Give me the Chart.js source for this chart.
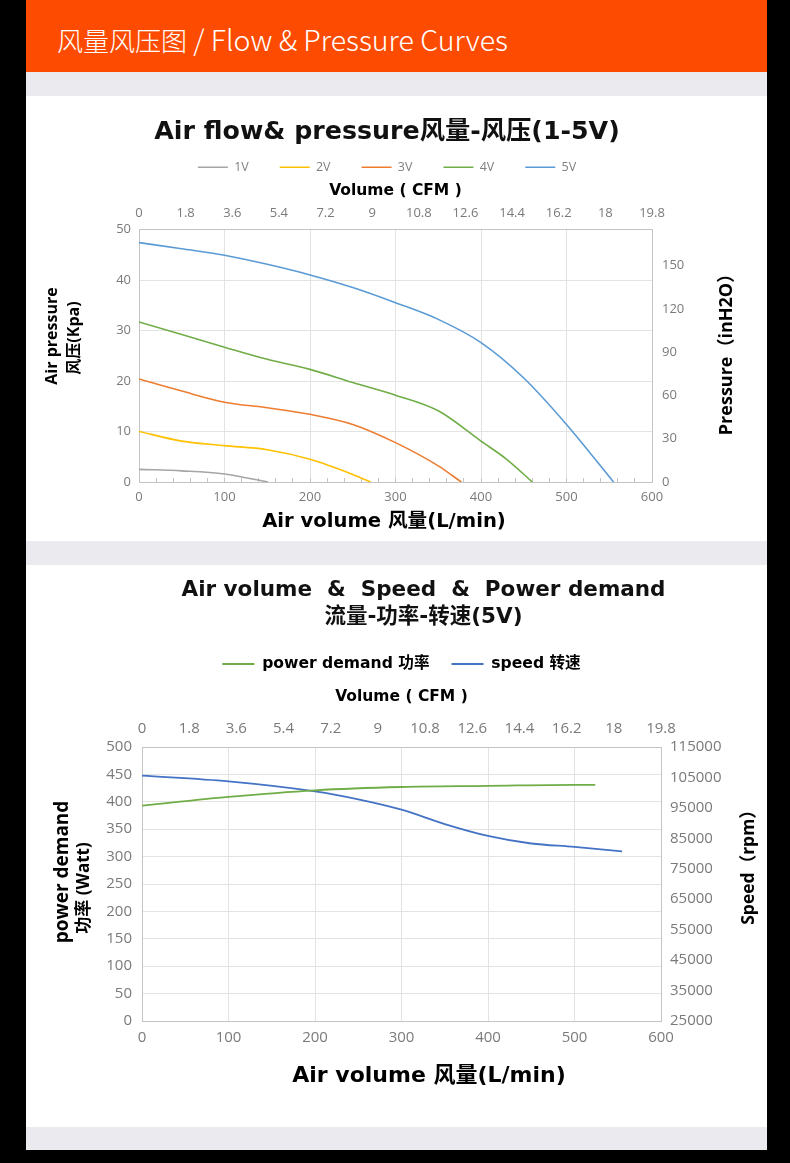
<!DOCTYPE html>
<html>
<head>
<meta charset="utf-8">
<script src="https://cdn.jsdelivr.net/npm/chart.js"></script>
<style>
body { margin: 0; background: #000; }
#page { position: relative; width: 790px; height: 1163px; background: #000; overflow: hidden; }
#header { position: absolute; left: 26px; top: 0; width: 741px; height: 72px; background: #fd4c02; }
#header span { position: absolute; left: 31px; top: 18px; line-height: 38px; color: #fff; white-space: nowrap;
  font: 300 26px "Noto Sans CJK SC", sans-serif; }
#header span i { font-style: normal; font-size: 28.5px; }
.band { position: absolute; left: 26px; width: 741px; background: #ebebef; }
.panel { position: absolute; left: 26px; width: 741px; background: #fff; }
</style>
</head>
<body>
<div id="page">
  <div id="header"><span>风量风压图<i> / Flow &amp; Pressure Curves</i></span></div>
  <div class="band" style="top:72px;height:1078px"></div>
  <div class="panel" style="top:96px;height:445px"><canvas id="flowChart"></canvas></div>
  <div class="panel" style="top:565px;height:562px"><canvas id="powerChart"></canvas></div>
</div>

<script>
// ---- values ----
const voltLabels = ['1V', '2V', '3V', '4V', '5V'];

// air volume (L/min) -> pressure (kPa), one pair of arrays per voltage
const flow1V = [0, 50, 100, 120, 151];
const kpa1V  = [2.5, 2.2, 1.6, 1.0, 0];
const flow2V = [0, 50, 100, 150, 200, 250, 271];
const kpa2V  = [10.0, 8.1, 7.2, 6.4, 4.5, 1.5, 0];
const flow3V = [0, 50, 100, 150, 200, 250, 300, 350, 377];
const kpa3V  = [20.4, 18.0, 15.8, 14.7, 13.4, 11.4, 7.8, 3.2, 0];
const flow4V = [0, 50, 100, 150, 200, 250, 300, 350, 400, 430, 460];
const kpa4V  = [31.7, 29.2, 26.7, 24.3, 22.3, 19.7, 17.2, 14.1, 8.1, 4.5, 0];
const flow5V = [0, 50, 100, 150, 200, 250, 300, 350, 400, 450, 500, 555];
const kpa5V  = [47.4, 46.2, 44.9, 43.1, 41.0, 38.5, 35.5, 32.2, 27.6, 20.6, 11.4, 0];

// 5V: air volume (L/min) -> power (W) and speed (rpm)
const flowPower = [0, 100, 200, 300, 400, 500, 524];
const powerW    = [393, 409, 421, 427, 429, 431, 431];
const flowSpeed = [0, 100, 200, 250, 300, 350, 400, 450, 500, 555];
const speedRpm  = [105600, 103700, 100400, 97800, 94400, 89700, 85800, 83300, 82200, 80700];

// tick labels
const flowTicks  = [0, 100, 200, 300, 400, 500, 600];
const cfmTicks   = [0, 1.8, 3.6, 5.4, 7.2, 9, 10.8, 12.6, 14.4, 16.2, 18, 19.8];
const kpaTicks   = [0, 10, 20, 30, 40, 50];
const inH2OTicks = [0, 30, 60, 90, 120, 150];
const wattTicks  = [0, 50, 100, 150, 200, 250, 300, 350, 400, 450, 500];
const rpmTicks   = [25000, 35000, 45000, 55000, 65000, 75000, 85000, 95000, 105000, 115000];

// ---- styling ----
const voltColors = ['#a5a5a5', '#ffc000', '#ed7d31', '#70ad47', '#5b9bd5'];
const WIDE = '"DejaVu Sans", "Noto Sans CJK SC", sans-serif';
const OPEN = '"Open Sans", "Noto Sans CJK SC", sans-serif';
const GRID = '#e3e3e3';
const EDGE = '#c4c4c4';

Chart.defaults.font.family = OPEN;
Chart.defaults.color = '#7a7a7a';
Chart.defaults.animation = false;

function pairs(xs, ys) {
  return xs.map((x, i) => ({ x: x, y: ys[i] }));
}
function fixedTicks(list) {
  return scale => { scale.ticks = list.map(value => ({ value })); };
}
// axis captions placed like the Excel text boxes; side ones read bottom to top
function captions(items) {
  return {
    id: 'captions',
    afterDraw(chart) {
      const ctx = chart.ctx;
      items.forEach(t => {
        ctx.save();
        ctx.translate(t.x, t.y);
        if (t.up) ctx.rotate(-Math.PI / 2);
        ctx.font = t.font;
        ctx.fillStyle = '#000';
        ctx.textAlign = 'center';
        ctx.textBaseline = 'middle';
        ctx.fillText(t.text, 0, 0);
        ctx.restore();
      });
    }
  };
}

const flows = [flow1V, flow2V, flow3V, flow4V, flow5V];
const pressures = [kpa1V, kpa2V, kpa3V, kpa4V, kpa5V];

new Chart(document.getElementById('flowChart'), {
  type: 'line',
  data: {
    datasets: voltLabels.map((label, i) => ({
      label: label,
      data: pairs(flows[i], pressures[i]),
      borderColor: voltColors[i],
      backgroundColor: voltColors[i],
      borderWidth: 1.6,
      pointRadius: 0,
      cubicInterpolationMode: 'monotone',
      xAxisID: 'x',
      yAxisID: 'y'
    }))
  },
  options: {
    responsive: true,
    maintainAspectRatio: false,
    layout: { padding: { right: 19 } },
    plugins: {
      title: {
        display: true,
        text: 'Air flow& pressure风量-风压(1-5V)',
        color: '#111',
        font: { family: WIDE, size: 25.3, weight: 'bold', lineHeight: 1 },
        padding: { top: 24, bottom: -15.3 }
      },
      legend: {
        labels: { usePointStyle: true, pointStyle: 'line', pointStyleWidth: 30, padding: 31,
                  color: '#7f7f7f', font: { size: 12.5 } }
      },
      tooltip: { enabled: false }
    },
    scales: {
      x: {
        type: 'linear', min: 0, max: 600,
        afterFit: s => { s.height = 59; },
        ticks: { stepSize: 20, autoSkip: false, maxRotation: 0, padding: 11.2, font: { size: 13 },
                 callback: v => flowTicks.includes(v) ? String(v) : '' },
        grid: { color: c => flowTicks.includes(c.tick.value) ? GRID : 'rgba(0,0,0,0)',
                tickLength: -4, tickColor: EDGE },
        border: { color: EDGE }
      },
      x2: {
        type: 'linear', position: 'top', min: 0, max: 19.8,
        afterBuildTicks: fixedTicks(cfmTicks),
        afterFit: s => { s.height = 46; },
        ticks: { autoSkip: false, maxRotation: 0, padding: 8.2, font: { size: 13 }, callback: v => String(v) },
        grid: { display: false, drawTicks: false },
        border: { color: EDGE },
        title: { display: true, text: 'Volume ( CFM )', color: '#000',
                 font: { family: WIDE, size: 15.5, weight: 'bold', lineHeight: 1 }, padding: { top: 0, bottom: 0 } }
      },
      y: {
        min: 0, max: 50,
        afterBuildTicks: fixedTicks(kpaTicks),
        afterFit: s => { s.width = 113; },
        ticks: { padding: 8, font: { size: 13 }, callback: v => String(v) },
        grid: { color: GRID, drawTicks: false },
        border: { color: EDGE }
      },
      y2: {
        position: 'right', min: 0, max: 175,
        afterBuildTicks: fixedTicks(inH2OTicks),
        afterFit: s => { s.width = 96; },
        ticks: { padding: 10, font: { size: 13 }, callback: v => String(v) },
        grid: { display: false, drawTicks: false },
        border: { color: EDGE }
      }
    }
  },
  plugins: [captions([
    { text: 'Air pressure', x: 26, y: 240, up: true, font: 'bold 16px ' + OPEN },
    { text: '风压(Kpa)', x: 48, y: 242, up: true, font: 'bold 16px ' + OPEN },
    { text: 'Pressure（inH2O）', x: 701, y: 254, up: true, font: 'bold 18px ' + OPEN },
    { text: 'Air volume 风量(L/min)', x: 358, y: 426, font: 'bold 19.6px ' + WIDE }
  ])]
});

new Chart(document.getElementById('powerChart'), {
  type: 'line',
  data: {
    datasets: [
      {
        label: 'power demand 功率',
        data: pairs(flowPower, powerW),
        borderColor: '#70ad47',
        backgroundColor: '#70ad47',
        borderWidth: 1.8,
        pointRadius: 0,
        cubicInterpolationMode: 'monotone',
        yAxisID: 'y'
      },
      {
        label: 'speed 转速',
        data: pairs(flowSpeed, speedRpm),
        borderColor: '#4472c4',
        backgroundColor: '#4472c4',
        borderWidth: 1.8,
        pointRadius: 0,
        cubicInterpolationMode: 'monotone',
        yAxisID: 'y2'
      }
    ]
  },
  options: {
    responsive: true,
    maintainAspectRatio: false,
    layout: { padding: { left: 54 } },
    plugins: {
      title: {
        display: true,
        text: ['Air volume  &  Speed  &  Power demand', '流量-功率-转速(5V)'],
        color: '#111',
        font: { family: WIDE, size: 21.5, weight: 'bold', lineHeight: 1.256 },
        padding: { top: 11.5, bottom: 3.7 }
      },
      legend: {
        fullSize: false,
        labels: { usePointStyle: true, pointStyle: 'line', pointStyleWidth: 32, padding: 22,
                  color: '#000', font: { family: WIDE, size: 15.6, weight: 'bold' } }
      },
      tooltip: { enabled: false }
    },
    scales: {
      x: {
        type: 'linear', min: 0, max: 600,
        afterBuildTicks: fixedTicks(flowTicks),
        afterFit: s => { s.height = 106; },
        ticks: { autoSkip: false, maxRotation: 0, padding: 8, font: { size: 15 }, callback: v => String(v) },
        grid: { color: GRID, drawTicks: false },
        border: { color: EDGE }
      },
      x2: {
        type: 'linear', position: 'top', min: 0, max: 19.8,
        afterBuildTicks: fixedTicks(cfmTicks),
        afterFit: s => { s.height = 65.2; },
        ticks: { autoSkip: false, maxRotation: 0, padding: 9, font: { size: 15 }, callback: v => String(v) },
        grid: { display: false, drawTicks: false },
        border: { color: EDGE },
        title: { display: true, text: 'Volume ( CFM )', color: '#000',
                 font: { family: WIDE, size: 15.5, weight: 'bold', lineHeight: 1 }, padding: { top: 7.4, bottom: 0 } }
      },
      y: {
        min: 0, max: 500,
        afterBuildTicks: fixedTicks(wattTicks),
        afterFit: s => { s.width = 62; },
        ticks: { padding: 10, font: { size: 15 }, callback: v => String(v) },
        grid: { color: GRID, drawTicks: false },
        border: { color: EDGE }
      },
      y2: {
        position: 'right', min: 25000, max: 115000,
        afterBuildTicks: fixedTicks(rpmTicks),
        afterFit: s => { s.width = 106; },
        ticks: { padding: 9, font: { size: 15 }, callback: v => String(v) },
        grid: { display: false, drawTicks: false },
        border: { color: EDGE }
      }
    }
  },
  plugins: [captions([
    { text: 'power demand', x: 37, y: 307, up: true, font: 'bold 19px ' + OPEN },
    { text: '功率 (Watt)', x: 58, y: 323, up: true, font: 'bold 17px ' + OPEN },
    { text: 'Speed（rpm）', x: 723, y: 298, up: true, font: 'bold 17.5px ' + OPEN },
    { text: 'Air volume 风量(L/min)', x: 403, y: 511, font: 'bold 22px ' + WIDE }
  ])]
});
</script>
</body>
</html>
